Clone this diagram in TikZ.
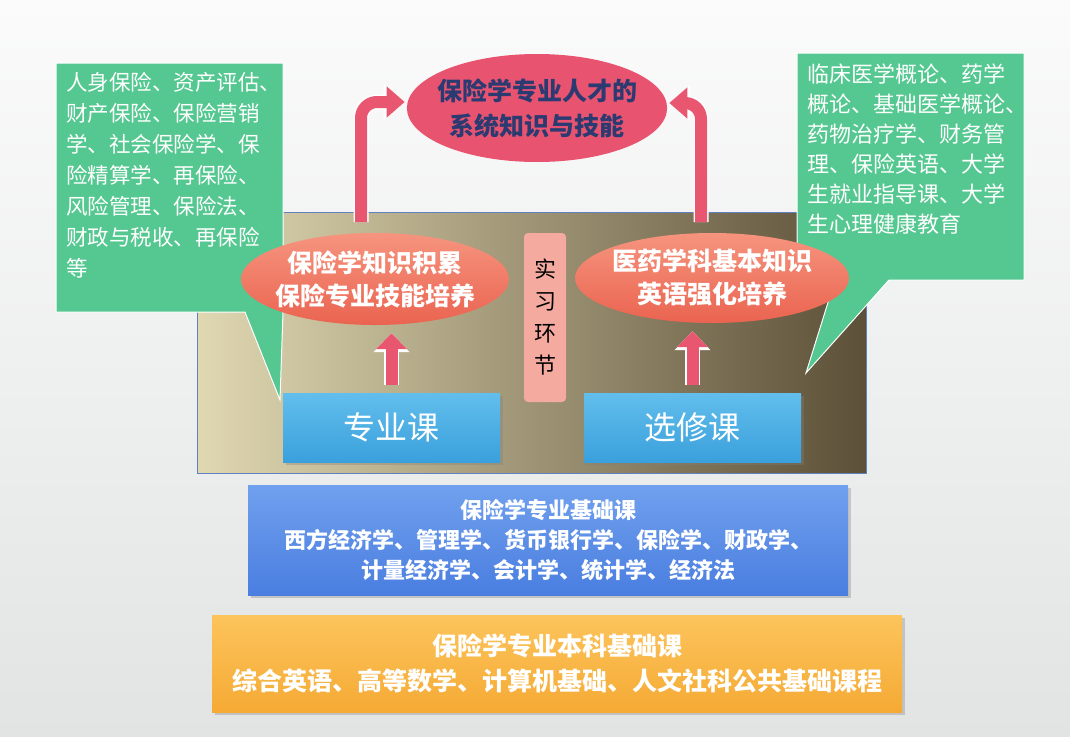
\documentclass[tikz,border=0pt]{standalone}
\usepackage{fontspec}
\setmainfont{Noto Sans CJK SC}
\usetikzlibrary{arrows.meta,positioning,calc,shapes.geometric,shadows}
\definecolor{bgtop}{RGB}{251,251,251}
\definecolor{bgbot}{RGB}{226,228,228}
\definecolor{notegreen}{RGB}{84,200,144}
\definecolor{panelleft}{RGB}{224,216,178}
\definecolor{panelmid}{RGB}{160,150,118}
\definecolor{panelright}{RGB}{92,80,56}
\definecolor{goalred}{RGB}{232,84,112}
\definecolor{goalnavy}{RGB}{43,58,112}
\definecolor{bubtop}{RGB}{246,148,126}
\definecolor{bubbot}{RGB}{234,100,80}
\definecolor{internpink}{RGB}{245,170,160}
\definecolor{skytop}{RGB}{98,190,236}
\definecolor{skybot}{RGB}{58,160,220}
\definecolor{foundtop}{RGB}{112,160,238}
\definecolor{foundbot}{RGB}{74,126,224}
\definecolor{basictop}{RGB}{252,196,92}
\definecolor{basicbot}{RGB}{245,170,52}
\definecolor{arrowpink}{RGB}{233,86,111}

\begin{document}
\begin{tikzpicture}[x=1pt,y=-1pt,
  note/.style={anchor=north west, align=left, inner sep=0pt, text=white,
               font=\fontsize{21.5}{31}\selectfont},
  bubble/.style={ellipse, align=center, inner xsep=-6pt, inner ysep=0pt,
                 top color=bubtop, bottom color=bubbot, text=white,
                 font=\bfseries\fontsize{25}{33}\selectfont},
  course/.style={rectangle, align=center, text=white, drop shadow={opacity=0.35},
                 top color=skytop, bottom color=skybot,
                 minimum width=217pt, minimum height=69pt,
                 font=\fontsize{32}{36}\selectfont},
  layer/.style={rectangle, align=center, text=white, drop shadow={opacity=0.35},
                font=\bfseries\fontsize{22}{30}\selectfont},
  bigarrow/.style={draw=arrowpink, line width=12pt, rounded corners=16pt,
                   -{Triangle[width=30pt,length=18pt]},
                   preaction={draw=white, line width=15pt,
                              -{Triangle[width=35pt,length=21pt]}}},
  smallarrow/.style={draw=arrowpink, line width=12pt,
                     -{Triangle[width=30pt,length=16pt]},
                     preaction={draw=white, line width=15pt,
                                -{Triangle[width=35pt,length=19pt]}}}
]
% slide background
\shade[top color=bgtop, bottom color=bgbot] (0,0) rectangle (1070,736);

% middle stage
\node[rectangle, draw={rgb,255:red,96;green,128;blue,192}, line width=0.6pt,
      left color=panelleft, middle color=panelmid, right color=panelright,
      minimum width=669pt, minimum height=261pt] (core) at (531.5,342.5) {};

% callouts
\fill[notegreen, draw=white, line width=1pt] (56,63) -- (283,63) -- (283,312)
  -- (280,400) -- (245,312) -- (56,312) -- cycle;
\fill[notegreen, draw=white, line width=1pt] (797,53) -- (1024,53) -- (1024,280)
  -- (889,280) -- (806,373) -- (835,280) -- (797,280) -- cycle;
\node[note] (lnote) at (66,72) {人身保险、资产评估、\\财产保险、保险营销\\学、社会保险学、保\\险精算学、再保险、\\风险管理、保险法、\\财政与税收、再保险\\等};
\node[note, font=\fontsize{22}{30}\selectfont] (rnote) at (807,64) {临床医学概论、药学\\概论、基础医学概论、\\药物治疗学、财务管\\理、保险英语、大学\\生就业指导课、大学\\生心理健康教育};

\node[rectangle, rounded corners=4pt, fill=internpink, align=center,
      minimum width=42pt, minimum height=169pt,
      font=\fontsize{22}{32}\selectfont] (intern) at (545,317.5) {实\\习\\环\\节};

\node[course] (major) at (391.5,427.5) {专业课};
\node[course] (elective) at (692.5,427.5) {选修课};

\node[bubble, minimum width=268pt, minimum height=92pt] (lbub) at (375,279) {保险学知识积累\\保险专业技能培养};
\node[bubble, minimum width=274pt, minimum height=90pt] (rbub) at (712,278) {医药学科基本知识\\英语强化培养};

\node[ellipse, fill=goalred, text=goalnavy, align=center, inner xsep=-8pt, inner ysep=0pt,
      minimum width=256pt, minimum height=108pt,
      font=\bfseries\fontsize{25}{35}\selectfont] (goal) at (537,108) {保险学专业人才的\\系统知识与技能};

\coordinate (lrise) at (361,222);
\coordinate (rrise) at (701,222);
\draw[bigarrow, shorten >=2pt] (lrise) |- ($(goal.west)+(0,-6)$);
\draw[bigarrow, shorten >=2pt] (rrise) |- ($(goal.east)+(0,-5)$);

\foreach \c/\b in {major/lbub, elective/rbub} {
  \draw[smallarrow, shorten <=8pt, shorten >=8pt] (\c.north) -- (\c.north |- \b.south);
}

% foundation layers
\node[layer, top color=foundtop, bottom color=foundbot,
      minimum width=600pt, minimum height=110pt] (found) at (548,540)
  {保险学专业基础课\\西方经济学、管理学、货币银行学、保险学、财政学、\\计量经济学、会计学、统计学、经济法};
\node[layer, top color=basictop, bottom color=basicbot,
      minimum width=690pt, minimum height=97pt,
      font=\bfseries\fontsize{25}{35}\selectfont] (basic) at (557,663.5)
  {保险学专业本科基础课\\综合英语、高等数学、计算机基础、人文社科公共基础课程};
\end{tikzpicture}
\end{document}
